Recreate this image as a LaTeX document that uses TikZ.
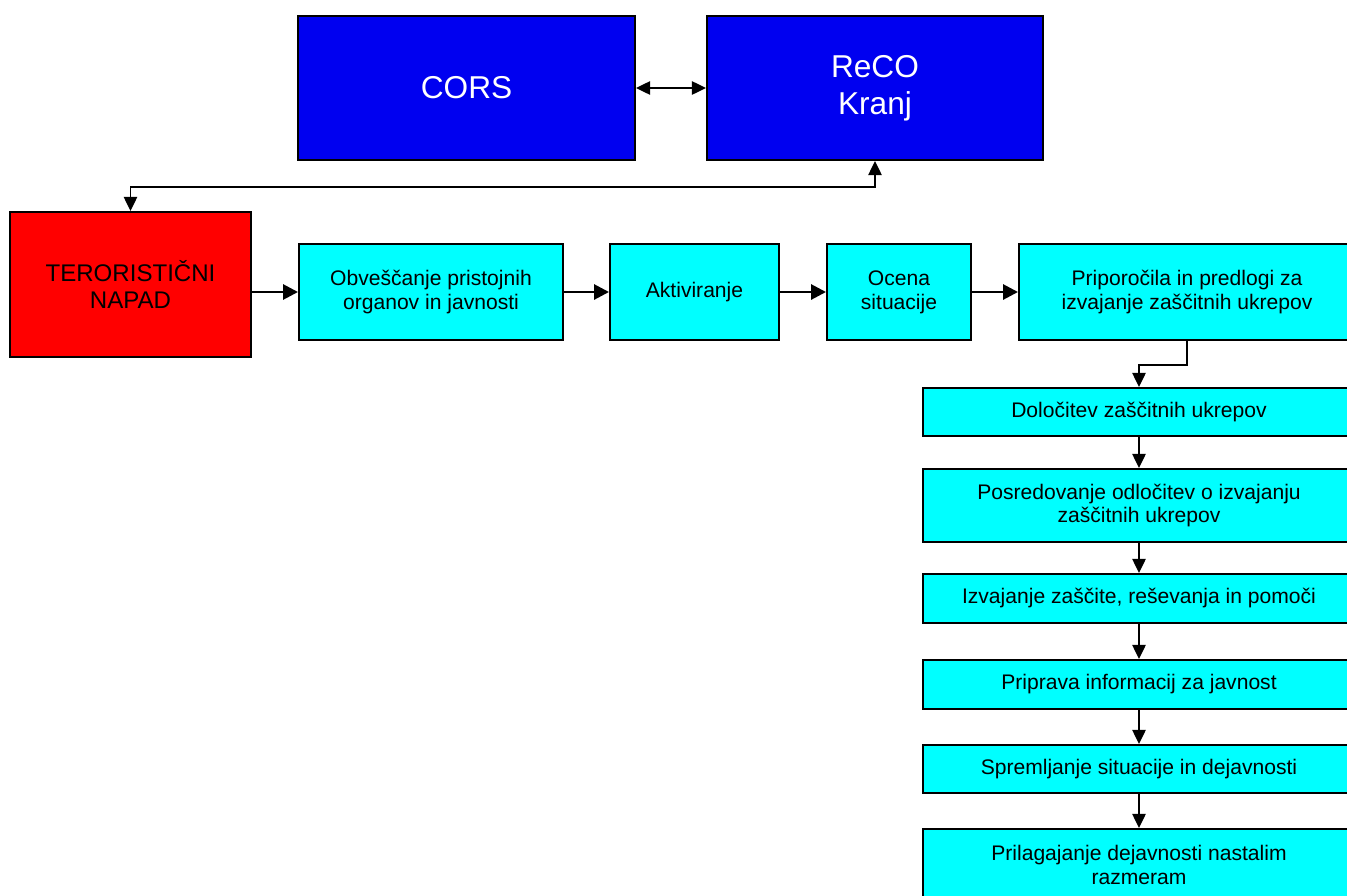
\documentclass[tikz,border=0pt]{standalone}
\usepackage{fontspec}
\setmainfont{Liberation Sans}
\usetikzlibrary{arrows.meta, calc}

\begin{document}
\begin{tikzpicture}[x=0.02cm, y=-0.02cm,
  box/.style={draw=black, line width=1.1pt, align=center, inner sep=0pt,
    font=\fontsize{12}{13.6}\selectfont, text=black},
  centre/.style={box, fill={rgb,255:red,0;green,0;blue,240}, text=white,
    font=\fontsize{18}{21}\selectfont},
  korak/.style={box, fill={rgb,255:red,0;green,255;blue,255}},
  arr/.style={-{Triangle[length=8.5pt, width=8.5pt]}, line width=1.6pt},
  varr/.style={-{Triangle[length=8pt, width=7.5pt]}, line width=1.1pt},
  darr/.style={{Triangle[length=8pt, width=7.5pt]}-{Triangle[length=8pt, width=7.5pt]}, line width=1.1pt}]
\useasboundingbox (0,0) rectangle (1347,896);
\clip (0,0) rectangle (1347,896);

\node[centre, minimum width=337*0.02cm, minimum height=144*0.02cm] (cors) at (466.5,88) {CORS};
\node[centre, minimum width=336*0.02cm, minimum height=144*0.02cm] (reco) at (875,88) {ReCO\\Kranj};
\node[box, fill=red, minimum width=241*0.02cm, minimum height=145*0.02cm,
  font=\fontsize{13.7}{15.5}\selectfont] (napad) at (130.5,284.5) {TERORISTIČNI\\NAPAD};

\node[korak, minimum width=264*0.02cm, minimum height=96*0.02cm] (obv) at (431,292) {Obveščanje pristojnih\\organov in javnosti};
\node[korak, minimum width=169*0.02cm, minimum height=96*0.02cm] (akt) at (694.5,292) {Aktiviranje};
\node[korak, minimum width=144*0.02cm, minimum height=96*0.02cm] (ocena) at (899,292) {Ocena\\situacije};
\node[korak, minimum width=336*0.02cm, minimum height=96*0.02cm] (prip) at (1187,292) {Priporočila in predlogi za\\izvajanje zaščitnih ukrepov};

\node[korak, minimum width=432*0.02cm, minimum height=48*0.02cm] (dol) at (1139,412) {Določitev zaščitnih ukrepov};
\node[korak, minimum width=432*0.02cm, minimum height=73*0.02cm] (pos) at (1139,505.5) {Posredovanje odločitev o izvajanju\\zaščitnih ukrepov};
\node[korak, minimum width=432*0.02cm, minimum height=49*0.02cm] (izv) at (1139,598.5) {Izvajanje zaščite, reševanja in pomoči};
\node[korak, minimum width=432*0.02cm, minimum height=49*0.02cm] (pri) at (1139,684.5) {Priprava informacij za javnost};
\node[korak, minimum width=432*0.02cm, minimum height=48*0.02cm] (spr) at (1139,769) {Spremljanje situacije in dejavnosti};
\node[korak, minimum width=432*0.02cm, minimum height=72*0.02cm] (pril) at (1139,865) {Prilagajanje dejavnosti nastalim\\razmeram};

\coordinate (vodilo) at (0,187);
\draw[darr] (cors.east) -- (reco.west);
\draw[darr] (napad.north) -- (napad.north |- vodilo) -- (reco.south |- vodilo) -- (reco.south);

\draw[arr] (napad.east |- obv.west) -- (obv.west);
\draw[arr] (obv.east) -- (akt.west);
\draw[arr] (akt.east) -- (ocena.west);
\draw[arr] (ocena.east) -- (prip.west);

\draw[varr] (prip.south) -- ++(0,24) -| (dol.north);
\draw[varr] (dol) -- (pos);
\draw[varr] (pos) -- (izv);
\draw[varr] (izv) -- (pri);
\draw[varr] (pri) -- (spr);
\draw[varr] (spr) -- (pril);
\end{tikzpicture}
\end{document}
